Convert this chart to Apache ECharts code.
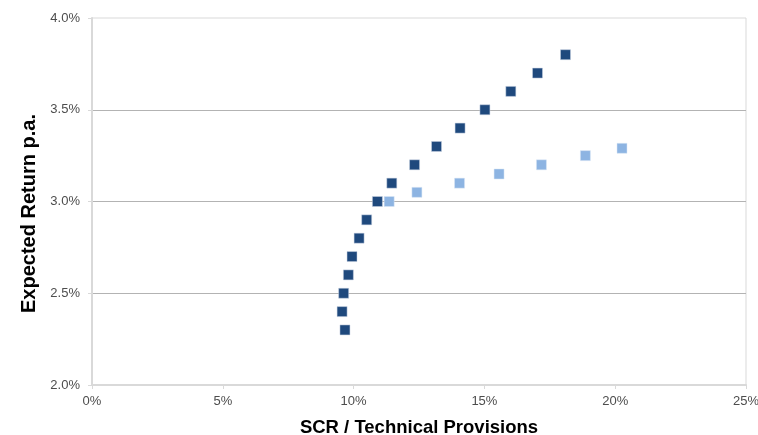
<!DOCTYPE html>
<html>
<head>
<meta charset="utf-8">
<script src="https://cdn.jsdelivr.net/npm/echarts@6/dist/echarts.min.js"></script>
<style>
  html, body { margin: 0; padding: 0; background: #ffffff; }
  #chart { width: 758px; height: 435px; }
</style>
</head>
<body>
<div id="chart"></div>
<script>
// Efficient frontier: SCR ratio (%) vs expected return (%)
const frontierScr    = [9.67, 9.56, 9.62, 9.80, 9.94, 10.21, 10.50, 10.91, 11.46, 12.33, 13.17, 14.07, 15.02, 16.01, 17.03, 18.10];
const frontierReturn = [2.30, 2.40, 2.50, 2.60, 2.70, 2.80, 2.90, 3.00, 3.10, 3.20, 3.30, 3.40, 3.50, 3.60, 3.70, 3.80];

// Alternative portfolios
const altScr    = [11.36, 12.42, 14.05, 15.56, 17.18, 18.86, 20.26];
const altReturn = [3.00, 3.05, 3.10, 3.15, 3.20, 3.25, 3.29];

const xTicks = { min: 0, max: 25, interval: 5 };
const yTicks = { min: 2.0, max: 4.0, interval: 0.5 };

const toPairs = (xs, ys) => xs.map((x, i) => [x, ys[i]]);

const chart = echarts.init(document.getElementById('chart'), null, { renderer: 'canvas' });

const labelFont = { color: '#4d4d4d', fontSize: 13, fontFamily: 'Liberation Sans, Arial, sans-serif' };
const nameFont = { color: '#000000', fontWeight: 'bold', fontFamily: 'Liberation Sans, Arial, sans-serif' };

chart.setOption({
  animation: false,
  backgroundColor: '#ffffff',
  grid: {
    left: 92, right: 12, top: 18, bottom: 50,
    containLabel: false, outerBoundsMode: 'none',
    show: true, borderColor: '#d9d9d9', borderWidth: 1, backgroundColor: 'transparent'
  },
  xAxis: {
    type: 'value',
    min: xTicks.min, max: xTicks.max, interval: xTicks.interval,
    name: 'SCR / Technical Provisions',
    nameLocation: 'middle', nameGap: 33,
    nameTextStyle: Object.assign({ fontSize: 18.5 }, nameFont),
    axisLine: { show: true, lineStyle: { color: '#d9d9d9', width: 2 } },
    axisTick: { show: true, inside: false, length: 4, lineStyle: { color: '#d9d9d9' } },
    axisLabel: Object.assign({ formatter: v => v + '%', margin: 10 }, labelFont),
    splitLine: { show: false }
  },
  yAxis: {
    type: 'value',
    min: yTicks.min, max: yTicks.max, interval: yTicks.interval,
    name: 'Expected Return p.a.',
    nameLocation: 'middle', nameGap: 52,
    nameTextStyle: Object.assign({ fontSize: 20, padding: [0, 24, 0, 0] }, nameFont),
    axisLine: { show: true, lineStyle: { color: '#d9d9d9', width: 2 } },
    axisTick: { show: true, inside: false, length: 4, lineStyle: { color: '#d9d9d9' } },
    axisLabel: Object.assign({ formatter: v => v.toFixed(1) + '%', margin: 12 }, labelFont),
    splitLine: { show: true, showMinLine: false, showMaxLine: false, lineStyle: { color: '#b3b3b3', width: 1 } }
  },
  series: [
    {
      type: 'scatter',
      data: toPairs(altScr, altReturn),
      symbol: 'rect', symbolSize: 10,
      itemStyle: { color: '#8db4e2', opacity: 1, borderColor: '#dbe7f5', borderWidth: 0.5 },
      z: 2
    },
    {
      type: 'scatter',
      data: toPairs(frontierScr, frontierReturn),
      symbol: 'rect', symbolSize: 10,
      itemStyle: { color: '#1f497d', opacity: 1, borderColor: '#c8d3e2', borderWidth: 0.5 },
      z: 3
    }
  ]
});
</script>
</body>
</html>
